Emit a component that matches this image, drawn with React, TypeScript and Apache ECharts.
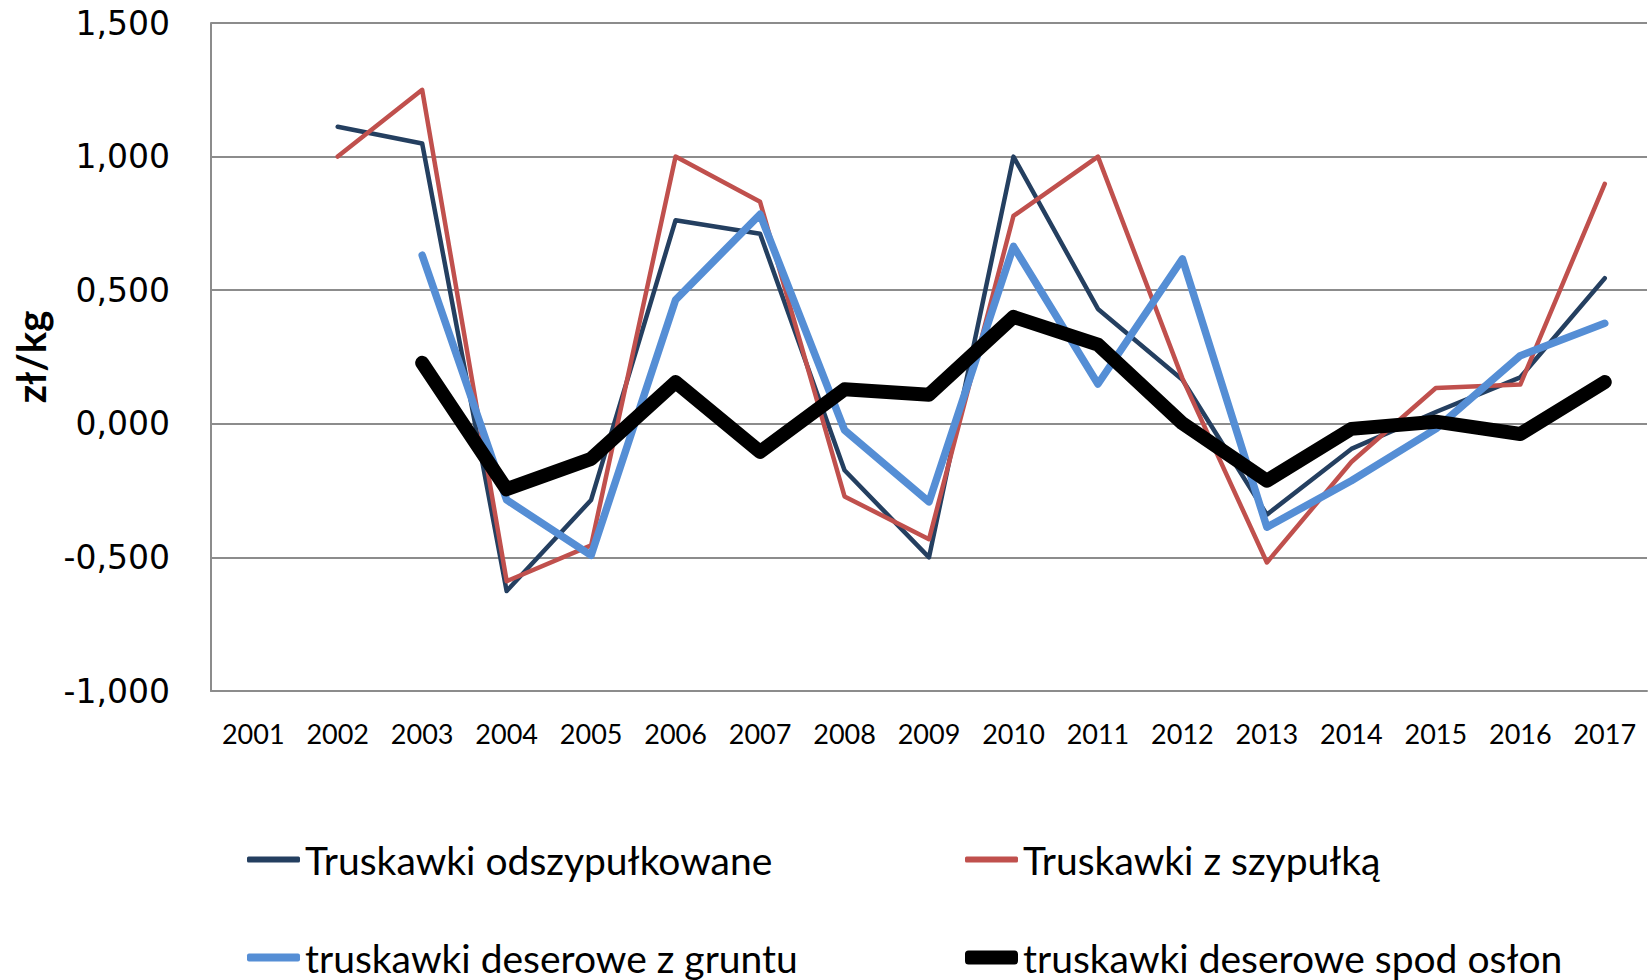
import React, { useEffect, useRef } from "react";
import * as echarts from "echarts";

const years = ["2001", "2002", "2003", "2004", "2005", "2006", "2007", "2008", "2009", "2010", "2011", "2012", "2013", "2014", "2015", "2016", "2017"];

const odszypulkowane = [null, 1.112, 1.049, -0.626, -0.285, 0.762, 0.711, -0.174, -0.5, 1.0, 0.43, 0.165, -0.34, -0.094, 0.044, 0.174, 0.545];
const zSzypulka = [null, 1.0, 1.25, -0.589, -0.455, 1.0, 0.831, -0.272, -0.432, 0.778, 1.0, 0.17, -0.519, -0.143, 0.134, 0.147, 0.898];
const zGruntu = [null, null, 0.631, -0.285, -0.492, 0.464, 0.784, -0.024, -0.292, 0.664, 0.149, 0.617, -0.387, -0.213, -0.019, 0.255, 0.376];
const spodOslon = [null, null, 0.228, -0.245, -0.131, 0.156, -0.105, 0.129, 0.109, 0.4, 0.296, 0.002, -0.213, -0.019, 0.008, -0.038, 0.156];

const seriesNames = [
  "Truskawki odszypułkowane",
  "Truskawki z szypułką",
  "truskawki deserowe z gruntu",
  "truskawki deserowe spod osłon",
];

const yTicks = { min: -1, max: 1.5, interval: 0.5 };
const yAxisTitle = "zł/kg";

export default function App() {
  const ref = useRef<HTMLDivElement>(null);

  useEffect(() => {
    if (!ref.current) return;
    const chart = echarts.init(ref.current, null, { renderer: "svg" });
    const colors = ["#243F60", "#C0504D", "#558ED5", "#000000"];
    const widths = [4.5, 4.5, 7.5, 14];
    const legendH = [6, 6, 8, 14];
    const datas = [odszypulkowane, zSzypulka, zGruntu, spodOslon];
    const legendPos = [
      { left: 247, top: 840 },
      { left: 965, top: 840 },
      { left: 247, top: 938 },
      { left: 965, top: 938 },
    ];
    chart.setOption({
      animation: false,
      backgroundColor: "#ffffff",
      grid: { left: 211, top: 23, right: 2, bottom: 289, containLabel: false },
      xAxis: {
        type: "category",
        data: years,
        boundaryGap: true,
        axisLine: { onZero: false, lineStyle: { color: "#8C8C8C", width: 2 } },
        axisTick: { show: false },
        axisLabel: {
          color: "#000",
          fontFamily: "Lato",
          fontSize: 27,
          margin: 29,
          interval: 0,
        },
      },
      yAxis: {
        type: "value",
        min: yTicks.min,
        max: yTicks.max,
        interval: yTicks.interval,
        axisLine: { show: true, lineStyle: { color: "#8C8C8C", width: 2 } },
        axisTick: { show: false },
        splitLine: { lineStyle: { color: "#8C8C8C", width: 2 } },
        axisLabel: {
          color: "#000",
          fontFamily: "DejaVu Sans",
          fontSize: 33,
          margin: 41,
          formatter: (v: number) => v.toFixed(3).replace(".", ","),
        },
      },
      graphic: [
        {
          type: "text",
          x: 31,
          y: 357,
          rotation: Math.PI / 2,
          style: {
            text: yAxisTitle,
            fontFamily: "Lato",
            fontWeight: "bold",
            fontSize: 40,
            fill: "#000",
            textAlign: "center",
            textVerticalAlign: "middle",
          },
        },
      ],
      legend: seriesNames.map((n, i) => ({
        data: [{ name: n, icon: "roundRect", itemStyle: { color: colors[i], borderWidth: 0 } }],
        left: legendPos[i].left,
        top: legendPos[i].top,
        padding: 0,
        itemWidth: 53,
        itemHeight: legendH[i],
        selectedMode: false,
        textStyle: { fontFamily: "Lato", fontSize: 39, color: "#000" },
      })),
      series: seriesNames.map((n, i) => ({
        name: n,
        type: "line",
        data: datas[i],
        symbol: "none",
        showSymbol: false,
        color: colors[i],
        lineStyle: { color: colors[i], width: widths[i], cap: "round", join: "round" },
        z: 2 + i,
      })),
    });
    return () => chart.dispose();
  }, []);

  return (
    <div
      ref={ref}
      style={{ position: "fixed", left: 0, top: 0, width: 1649, height: 980 }}
    />
  );
}
